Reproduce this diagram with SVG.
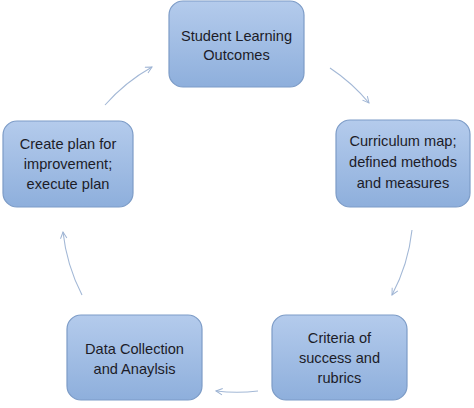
<svg xmlns="http://www.w3.org/2000/svg" width="474" height="408" viewBox="0 0 474 408">
<defs>
<linearGradient id="g" x1="0" y1="0" x2="0" y2="1">
<stop offset="0" stop-color="#b4cbec"/>
<stop offset="1" stop-color="#8eafdc"/>
</linearGradient>
<marker id="ah" viewBox="0 0 10 10" refX="9" refY="5" markerWidth="8" markerHeight="8" markerUnits="userSpaceOnUse" orient="auto">
<path d="M1,1 L9,5 L1,9" fill="none" stroke="#9db3d3" stroke-width="1.2"/>
</marker>
</defs>
<style>
rect.box{fill:url(#g);stroke:#7d9cc7;stroke-width:1.2}
text{font-family:"Liberation Sans",Arial,sans-serif;font-size:14.6px;fill:#1c1c28;text-anchor:middle}
#connectors path{fill:none;stroke:#a3b8d6;stroke-width:1.1;marker-end:url(#ah)}
</style>
<rect width="474" height="408" fill="#ffffff"/>
<g id="connectors">
<path d="M105,105 A180,180 0 0 1 152,67"/>
<path d="M330,68 A180,180 0 0 1 369,103"/>
<path d="M412,230 A180,180 0 0 1 392,295"/>
<path d="M258,391 A180,180 0 0 1 216,391"/>
<path d="M82,295 A180,180 0 0 1 63,232"/>
</g>
<g id="n1">
<rect class="box" x="169" y="1" width="135" height="86" rx="14"/>
<text x="236.5" y="41">Student Learning</text>
<text x="236.5" y="60">Outcomes</text>
</g>
<g id="n2">
<rect class="box" x="336" y="120" width="134" height="87" rx="14"/>
<text x="403" y="146">Curriculum map;</text>
<text x="403" y="167">defined methods</text>
<text x="403" y="188">and measures</text>
</g>
<g id="n3">
<rect class="box" x="272" y="315" width="135" height="85" rx="14"/>
<text x="339.5" y="343">Criteria of</text>
<text x="339.5" y="363">success and</text>
<text x="339.5" y="383">rubrics</text>
</g>
<g id="n4">
<rect class="box" x="67" y="315" width="135" height="85" rx="14"/>
<text x="134.5" y="354">Data Collection</text>
<text x="134.5" y="374">and Anaylsis</text>
</g>
<g id="n5">
<rect class="box" x="3" y="121" width="130" height="86" rx="14"/>
<text x="68" y="149">Create plan for</text>
<text x="68" y="169">improvement;</text>
<text x="68" y="189">execute plan</text>
</g>
</svg>
